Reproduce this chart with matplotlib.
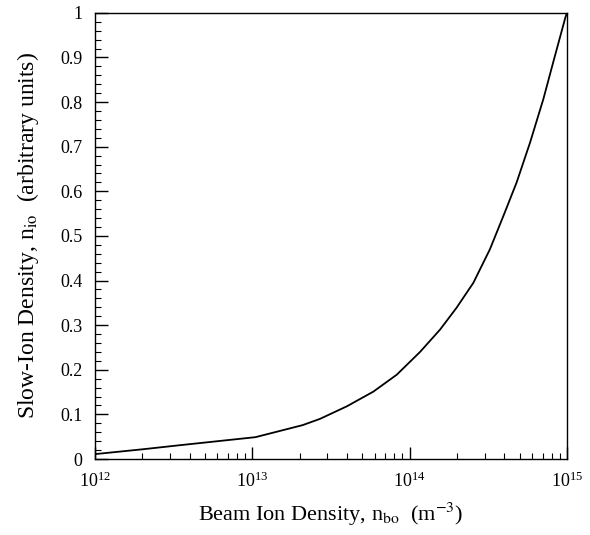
import numpy as np
import matplotlib
matplotlib.use('Agg')
import matplotlib.pyplot as plt
from matplotlib.ticker import MultipleLocator, LogLocator, NullFormatter

plt.rcParams['font.family'] = ['Liberation Serif', 'DejaVu Serif']
plt.rcParams['mathtext.fontset'] = 'stix'

# 曲线数据：log10(n_bo) 与 n_io
log_n_bo = [12.0, 12.307, 12.54, 13.02, 13.32, 13.43, 13.60, 13.769, 13.918,
            14.066, 14.193, 14.298, 14.405, 14.51, 14.596, 14.68,
            14.765, 14.85, 14.913, 14.99, 15.0]
n_io = [0.011, 0.022, 0.031, 0.049, 0.076, 0.090, 0.118, 0.151, 0.189,
        0.240, 0.290, 0.339, 0.395, 0.470, 0.545, 0.620,
        0.709, 0.807, 0.89, 0.99, 1.0]
n_bo = 10.0 ** np.array(log_n_bo)

y_ticklabels = ['0', '0.1', '0.2', '0.3', '0.4', '0.5', '0.6', '0.7', '0.8', '0.9', '1']

fig = plt.figure(figsize=(5.9, 5.35), dpi=100)
ax = fig.add_axes([0.161, 0.142, 0.8, 0.834])

ax.plot(n_bo, n_io, color='black', linewidth=1.3)

ax.set_xscale('log')
ax.set_xlim(1e12, 1e15)
ax.set_ylim(0, 1)

ax.xaxis.set_major_locator(LogLocator(base=10, numticks=10))
ax.xaxis.set_minor_locator(LogLocator(base=10, subs=np.arange(2, 10), numticks=10))
ax.xaxis.set_minor_formatter(NullFormatter())
ax.yaxis.set_minor_locator(MultipleLocator(0.02))
ax.set_yticks(np.arange(0, 1.01, 0.1))
ax.set_yticklabels(y_ticklabels)

ax.tick_params(which='both', direction='in', top=False, right=False, labelsize=13)
ax.tick_params(which='major', length=9, width=1)
ax.tick_params(which='minor', length=4, width=0.8)
ax.tick_params(axis='x', pad=9)
ax.tick_params(axis='y', pad=9)

for s in ax.spines.values():
    s.set_linewidth(1.0)

ax.set_xlabel(r'Beam Ion Density, n$_{\rm bo}$  (m$^{-3}$)', fontsize=16, labelpad=7)
ax.set_ylabel(r'Slow-Ion Density, n$_{\rm io}$  (arbitrary units)', fontsize=17, labelpad=14)

plt.savefig('out.png', dpi=100)
